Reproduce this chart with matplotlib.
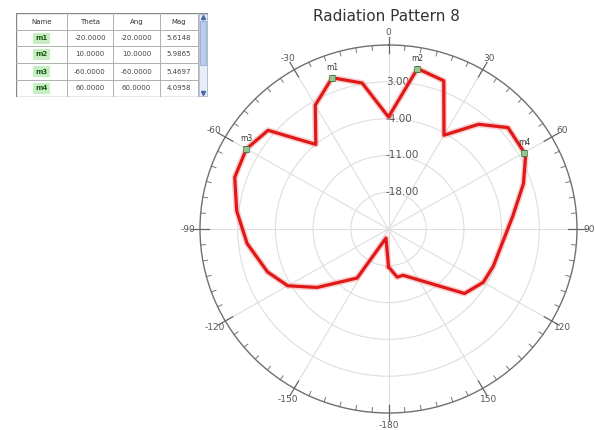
import numpy as np
import matplotlib
matplotlib.use('Agg')
import matplotlib.pyplot as plt
from matplotlib.patches import Rectangle

# pattern: angle (deg) and gain (dB)
angles = [-180, -165, -148, -130, -120, -110, -96, -83, -71, -60, -50, -40, -30,
          -20, -10, 0, 10, 20, 30, 40, 49, 60, 62, 71, 84, 110, 120, 131, 163, 170, 180]
gain_db = [-17.8, -23.2, -14.0, -7.7, -3.4, -1.1, 1.4, 3.4, 5.2, 5.47, 4.2, -4.0, 2.2,
           5.61, 3.2, -3.7, 5.99, 5.0, -4.4, 1.0, 4.4, 4.10, 3.8, 1.5, -1.8, -4.3, -4.7, -6.3, -15.8, -15.7, -17.8]

marker_names = ['m1', 'm2', 'm3', 'm4']
marker_theta = [-20.0, 10.0, -60.0, 60.0]
marker_mag = [5.6148, 5.9865, 5.4697, 4.0958]

ring_values = [-18, -11, -4, 3]
r_min, r_max = -25, 10

fig = plt.figure(figsize=(5.95, 4.30), dpi=100)
ax = fig.add_axes([200 / 595, 17 / 430, 377 / 595, 368 / 430], projection='polar')
ax.set_aspect('auto')
ax.set_theta_zero_location('N')
ax.set_theta_direction(-1)
ax.set_ylim(r_min, r_max)

ax.plot(np.radians(angles), gain_db, color='#f4a0a0', lw=4.5, alpha=0.5, zorder=3)
ax.plot(np.radians(angles), gain_db, color='#e01818', lw=2.3, zorder=4)

ax.plot(np.radians(marker_theta), marker_mag, 's', ms=4, color='#90c890', mec='#507850', mew=0.5, zorder=5)
for name, th, m in zip(marker_names, marker_theta, marker_mag):
    ax.annotate(name, (np.radians(th), m), xytext=(0, 4), textcoords='offset points',
                ha='center', va='bottom', fontsize=5.5, color='#333333', zorder=6)

# rings and spokes
ax.set_yticks(ring_values)
ax.set_yticklabels([])
for v in ring_values:
    ax.annotate('%.2f' % v, (0, v), xytext=(-2, 0), textcoords='offset points',
                ha='left', va='center', fontsize=7.5, color='#555555', zorder=2)
ticks = np.arange(0, 360, 30)
ax.set_xticks(np.radians(ticks))
ax.set_xticklabels([str(t) if t <= 150 else str(t - 360) for t in ticks],
                   fontsize=6.5, color='#555555')
ax.tick_params(axis='x', which='major', length=0, pad=2)
ax.grid(True, color='#dedede', lw=0.8)
ax.spines['polar'].set_color('#707070')
ax.spines['polar'].set_linewidth(1.0)

# tick marks on the outer circle
for t in np.arange(0, 360, 5):
    if t % 30 == 0:
        ax.plot([np.radians(t)] * 2, [r_max - 1.6, r_max + 1.6], color='#666666', lw=0.9, clip_on=False, zorder=6)
    else:
        ax.plot([np.radians(t)] * 2, [r_max - 0.9, r_max], color='#777777', lw=0.7, clip_on=False, zorder=6)

fig.text(0.649, 0.962, 'Radiation Pattern 8', ha='center', va='center', fontsize=11, color='#333333')

# marker table in the top left
tab = fig.add_axes([16 / 595, 1 - 97 / 430, 192 / 595, 84 / 430])
tab.set_xlim(0, 192)
tab.set_ylim(84, 0)
tab.axis('off')
col_edges = [0, 51, 97, 144, 182]
row_edges = [0, 17, 33, 50, 67, 84]
headers = ['Name', 'Theta', 'Ang', 'Mag']
rows = [[n, '%.4f' % t, '%.4f' % t, '%.4f' % m] for n, t, m in zip(marker_names, marker_theta, marker_mag)]

tab.add_patch(Rectangle((1.5, 1.5), 192, 84, facecolor='#c0c0c0', edgecolor='none', zorder=0))
tab.add_patch(Rectangle((0, 0), 192, 84, facecolor='white', edgecolor='#888888', lw=1.0, zorder=1))
for x in col_edges[1:]:
    tab.plot([x, x], [0, 84], color='#b0b0b0', lw=0.7, zorder=2)
for y in row_edges[1:-1]:
    tab.plot([0, 182], [y, y], color='#b0b0b0', lw=0.7, zorder=2)
for j, h in enumerate(headers):
    tab.text((col_edges[j] + col_edges[j + 1]) / 2, 8.5, h, ha='center', va='center', fontsize=5, color='#333333', zorder=3)
for i, row in enumerate(rows):
    yc = (row_edges[i + 1] + row_edges[i + 2]) / 2
    tab.add_patch(Rectangle((17, row_edges[i + 1] + 3), 17, 11, facecolor='#c6eec0', edgecolor='none', zorder=2))
    for j, val in enumerate(row):
        if j == 0:
            tab.text(25.5, yc, val, ha='center', va='center', fontsize=5, color='#1a5a1a', fontweight='bold', zorder=3)
        else:
            tab.text((col_edges[j] + col_edges[j + 1]) / 2, yc, val, ha='center', va='center', fontsize=5, color='#444444', zorder=3)
# scroll bar
tab.add_patch(Rectangle((183, 1), 8, 82, facecolor='#e8eef8', edgecolor='#a0b0c8', lw=0.5, zorder=2))
tab.add_patch(Rectangle((184, 8), 6, 44, facecolor='#b8cdee', edgecolor='#8aa0c8', lw=0.5, zorder=3))
tab.plot([187], [4], marker='^', ms=3, color='#4a6aa8', zorder=4)
tab.plot([187], [80], marker='v', ms=3, color='#4a6aa8', zorder=4)

fig.savefig('out.png', dpi=100)
